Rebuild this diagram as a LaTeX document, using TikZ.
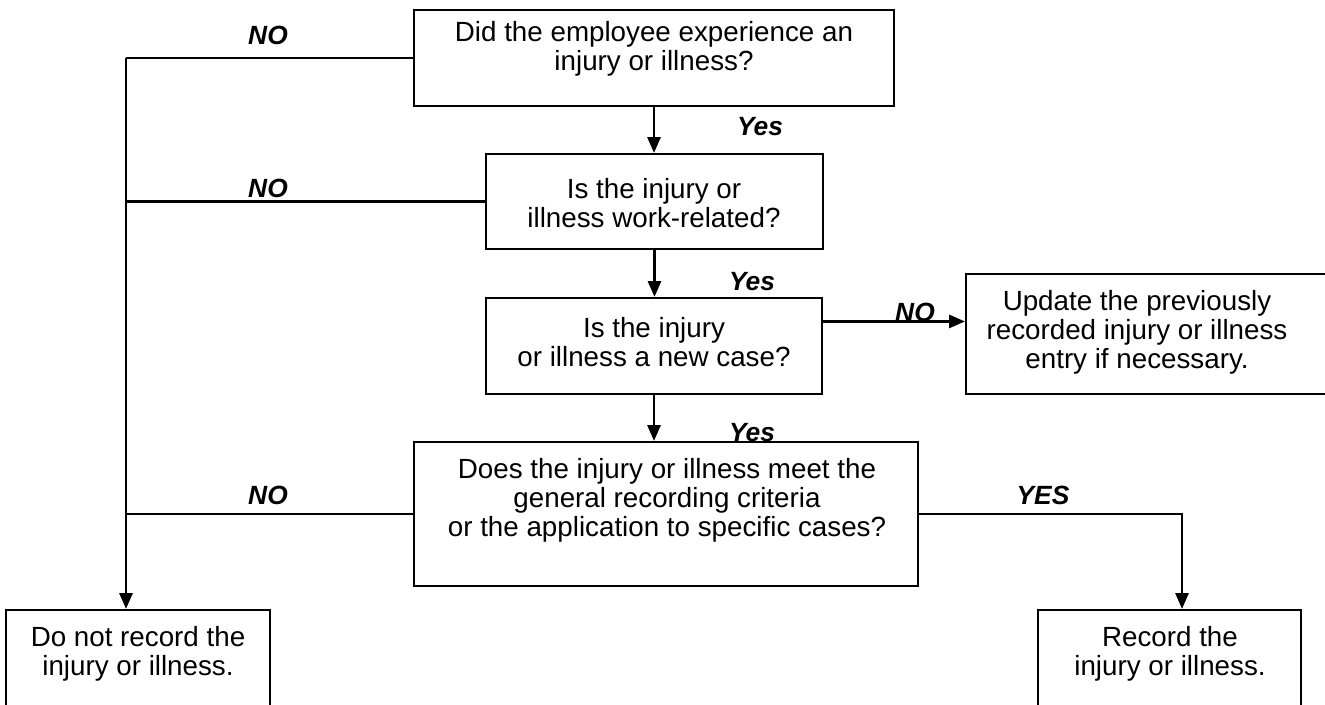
\documentclass[tikz,border=0pt]{standalone}
\usepackage{fontspec}
\setmainfont{Liberation Sans}
\usetikzlibrary{arrows.meta,calc,positioning}

\tikzset{
	box/.style={draw, line width=1.3pt, inner sep=0pt},
	txt/.style={align=center, inner sep=0pt, font=\fontsize{15.8}{16.6}\selectfont},
	lab/.style={inner sep=0pt, font=\fontsize{15}{16}\selectfont\bfseries\itshape},
	line/.style={line width=1.3pt},
	arr/.style={line width=1.3pt, -{Triangle[length=9pt,width=7.5pt]}}
}

\begin{document}
\begin{tikzpicture}[x=0.02cm, y=-0.02cm]
			%%%%% FRAME %%%%%
			\useasboundingbox (0,0) rectangle (1325,704);
			\clip (0,0) rectangle (1325,704);
			
			%%%%% BOXES %%%%%
			\node[box, minimum width=9.6cm, minimum height=1.92cm] (q1) at (654,58) {};
			\node[txt] (q1txt) at (654,49) {Did the employee experience an\\injury or illness?};
			
			\node[box, minimum width=6.74cm, minimum height=1.9cm] (q2) at (654.5,201.5) {};
			\node[txt] (q2txt) at (654,203) {Is the injury or\\illness work-related?};
			
			\node[box, minimum width=6.72cm, minimum height=1.92cm] (q3) at (654,346) {};
			\node[txt] (q3txt) at (654,342) {Is the injury\\or illness a new case?};
			
			\node[box, minimum width=7.58cm, minimum height=2.4cm] (upd) at (1155.5,334) {};
			\node[txt] (updtxt) at (1137,332) {Update the previously\\recorded injury or illness\\entry if necessary.};
			
			\node[box, minimum width=10.08cm, minimum height=2.88cm] (crit) at (666,514) {};
			\node[txt] (crittxt) at (667,500) {Does the injury or illness meet the\\general recording criteria\\or the application to specific cases?};
			
			\node[box, minimum width=5.28cm, minimum height=2.6cm] (norec) at (138,675) {};
			\node[txt] (norectxt) at (138,654) {Do not record the\\injury or illness.};
			
			\node[box, minimum width=5.26cm, minimum height=2.6cm] (rec) at (1169.5,675) {};
			\node[txt] (rectxt) at (1170,654) {Record the\\injury or illness.};
			
			%%%%% CONNECTORS %%%%%
			\coordinate (ltop) at (126,58);
			\coordinate (yesbend) at (1182,514);
			
			\draw[line] (q1.west) -- (ltop);
			\draw[arr] (ltop) -- (ltop |- norec.north);
			\draw[line] (q2.west) -- (q2.west -| ltop);
			\draw[line] (crit.west) -- (crit.west -| ltop);
			
			\draw[arr] (q1.south) -- (q1.south |- q2.north);
			\draw[arr] (q2.south) -- (q2.south |- q3.north);
			\draw[arr] (q3.south) -- (q3.south |- crit.north);
			
			\coordinate (nostart) at ($(q3.north east)!0.25!(q3.south east)$);
			\draw[arr] (nostart) -- (nostart -| upd.west);
			\draw[arr] (crit.east) -- (yesbend) -- (yesbend |- rec.north);
			
			%%%%% LABELS %%%%%
			\node[lab] (no1) at (268,35) {NO};
			\node[lab] (no2) at (268,188) {NO};
			\node[lab] (no3) at (268,495) {NO};
			\node[lab] (no4) at (915,312) {NO};
			\node[lab] (yes1) at (760,127) {Yes};
			\node[lab] (yes2) at (752,282) {Yes};
			\node[lab] (yes3) at (752,433) {Yes};
			\node[lab] (yes4) at (1043,495) {YES};
			
		\end{tikzpicture}
\end{document}
